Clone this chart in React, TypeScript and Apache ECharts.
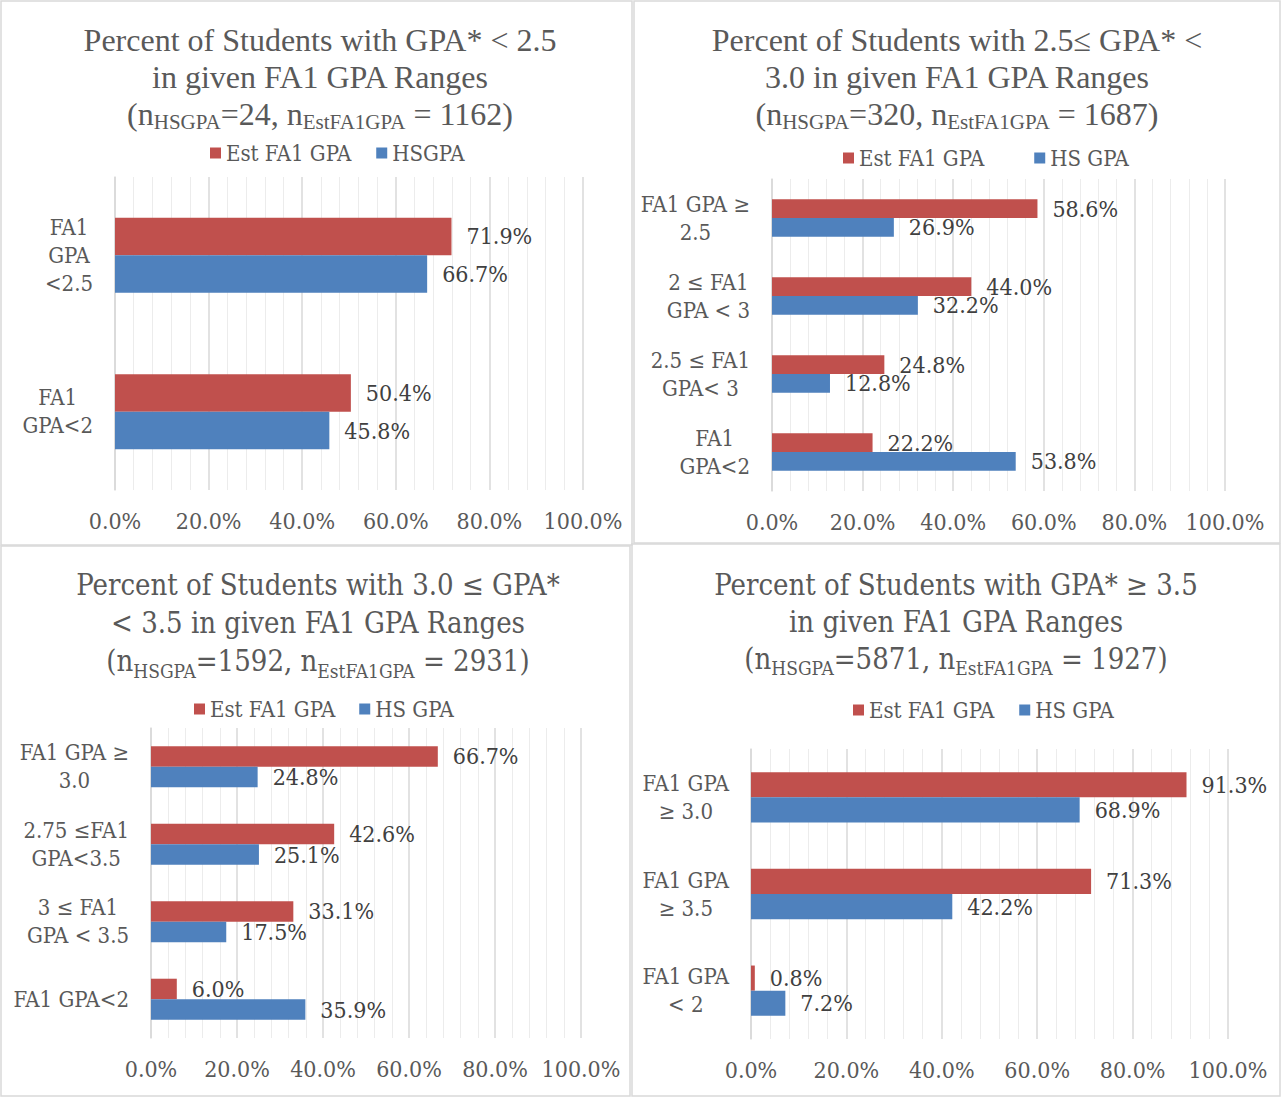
import React, { useEffect, useRef } from "react";
import * as echarts from "echarts";

// ---------- data ----------
const tlCategories = ["FA1\nGPA\n<2.5", "FA1\nGPA<2"];
const tlEst = [71.9, 50.4];
const tlHs = [66.7, 45.8];

const trCategories = ["FA1 GPA ≥\n2.5", "2 ≤ FA1\nGPA < 3", "2.5 ≤ FA1\nGPA< 3", "FA1\nGPA<2"];
const trEst = [58.6, 44.0, 24.8, 22.2];
const trHs = [26.9, 32.2, 12.8, 53.8];

const blCategories = ["FA1 GPA ≥\n3.0", "2.75 ≤FA1\nGPA<3.5", "3 ≤ FA1\nGPA < 3.5", "FA1 GPA<2"];
const blEst = [66.7, 42.6, 33.1, 6.0];
const blHs = [24.8, 25.1, 17.5, 35.9];

const brCategories = ["FA1 GPA\n≥ 3.0", "FA1 GPA\n≥ 3.5", "FA1 GPA\n< 2"];
const brEst = [91.3, 71.3, 0.8];
const brHs = [68.9, 42.2, 7.2];

const estName = "Est FA1 GPA";
const tlHsName = "HSGPA";
const hsName = "HS GPA";

const tlTitle = ["Percent of Students with GPA* < 2.5", "in given FA1 GPA Ranges", "(n{s|HSGPA}=24, n{s|EstFA1GPA} = 1162)"];
const trTitle = ["Percent of Students with 2.5≤ GPA* <", "3.0 in given FA1 GPA Ranges", "(n{s|HSGPA}=320, n{s|EstFA1GPA} = 1687)"];
const blTitle = ["Percent of Students with 3.0 ≤ GPA*", "< 3.5 in given FA1 GPA Ranges", "(n{s|HSGPA}=1592, n{s|EstFA1GPA} = 2931)"];
const brTitle = ["Percent of Students with GPA* ≥ 3.5", "in given FA1 GPA Ranges", "(n{s|HSGPA}=5871, n{s|EstFA1GPA} = 1927)"];

const valueTicks = { min: 0, max: 100, interval: 20 };

// ---------- style ----------
const RED = "#C0504D";
const BLUE = "#4F81BD";
const TEXT = "#595959";
const LABEL = "#404040";
const FONT = "'DejaVu Serif Condensed', 'Liberation Serif', serif";
const TOP_TITLE_FONT = "'Liberation Serif', serif";

const panels = [
  {
    cats: tlCategories, est: tlEst, hs: tlHs, hsName: tlHsName, title: tlTitle,
    titleFont: TOP_TITLE_FONT, titleSize: 32, titleX: 320, titleY: 21.5, titleLH: 37,
    grid: { left: 115, top: 177, width: 468, height: 313 },
    legend: { left: 210, top: 142, itemGap: 25 }, gap: "52%",
  },
  {
    cats: trCategories, est: trEst, hs: trHs, hsName: hsName, title: trTitle,
    titleFont: TOP_TITLE_FONT, titleSize: 32, titleX: 957, titleY: 21.5, titleLH: 37,
    grid: { left: 772, top: 179, width: 453, height: 312 },
    legend: { left: 843, top: 147, itemGap: 50 }, gap: "52%",
  },
  {
    cats: blCategories, est: blEst, hs: blHs, hsName: hsName, title: blTitle,
    titleFont: FONT, titleSize: 29, titleX: 318, titleY: 566, titleLH: 38,
    grid: { left: 151, top: 728, width: 430, height: 310 },
    legend: { left: 194, top: 698, itemGap: 24 }, gap: "47%",
  },
  {
    cats: brCategories, est: brEst, hs: brHs, hsName: hsName, title: brTitle,
    titleFont: FONT, titleSize: 29, titleX: 956, titleY: 566.5, titleLH: 37,
    grid: { left: 751, top: 749, width: 477, height: 290 },
    legend: { left: 853, top: 699, itemGap: 25 }, gap: "48%",
  },
];

const pct = (v: number) => v.toFixed(1) + "%";

function buildOption() {
  const grid: any[] = [];
  const xAxis: any[] = [];
  const yAxis: any[] = [];
  const series: any[] = [];
  const legend: any[] = [];
  const border = { fill: "none", stroke: "#d9d9d9", lineWidth: 1.5 };
  const graphic: any[] = [
    { type: "rect", shape: { x: 1, y: 1, width: 631, height: 544 }, style: border, silent: true },
    { type: "rect", shape: { x: 634, y: 1, width: 646, height: 542 }, style: border, silent: true },
    { type: "rect", shape: { x: 1, y: 546, width: 629, height: 550 }, style: border, silent: true },
    { type: "rect", shape: { x: 632, y: 544, width: 648, height: 552 }, style: border, silent: true },
  ];

  panels.forEach((p, i) => {
    grid.push({ ...p.grid, containLabel: false });
    xAxis.push({
      type: "value",
      gridIndex: i,
      min: valueTicks.min,
      max: valueTicks.max,
      interval: valueTicks.interval,
      axisLine: { show: false },
      axisTick: { show: false },
      minorTick: { show: false, splitNumber: 5 },
      minorSplitLine: { show: true, lineStyle: { color: "#ececec", width: 1 } },
      splitLine: { show: true, lineStyle: { color: "#d9d9d9", width: 1.5 } },
      axisLabel: {
        formatter: (v: number) => pct(v),
        margin: 19,
        color: TEXT,
        fontSize: 23,
        fontFamily: FONT,
      },
    });
    yAxis.push({
      type: "category",
      gridIndex: i,
      inverse: true,
      data: p.cats,
      axisLine: { show: true, lineStyle: { color: "#d9d9d9", width: 1.5 } },
      axisTick: { show: false },
      splitLine: { show: false },
      axisLabel: {
        margin: 22,
        align: "right",
        color: TEXT,
        fontSize: 22,
        fontFamily: FONT,
        lineHeight: 28,
        formatter: (v: string) => v.split("\n").map((l) => `{c|${l}}`).join("\n"),
        rich: {
          c: { align: "center", color: TEXT, fontSize: 22, fontFamily: FONT, lineHeight: 28 },
        },
      },
    });
    const label = {
      show: true,
      position: "right",
      distance: 15,
      color: LABEL,
      fontSize: 23,
      fontFamily: FONT,
      formatter: (d: any) => pct(d.value),
    };
    series.push({
      type: "bar",
      name: estName,
      xAxisIndex: i,
      yAxisIndex: i,
      data: p.est,
      itemStyle: { color: RED },
      barGap: "0%",
      barCategoryGap: p.gap,
      label,
    });
    series.push({
      type: "bar",
      name: p.hsName,
      xAxisIndex: i,
      yAxisIndex: i,
      data: p.hs,
      itemStyle: { color: BLUE },
      barGap: "0%",
      barCategoryGap: p.gap,
      label,
    });
    legend.push({
      left: p.legend.left,
      top: p.legend.top,
      itemGap: p.legend.itemGap,
      padding: 0,
      icon: "rect",
      itemWidth: 11,
      itemHeight: 11,
      selectedMode: false,
      data: [estName, p.hsName],
      textStyle: { color: TEXT, fontSize: 22, fontFamily: FONT },
    });
    graphic.push({
      type: "text",
      x: p.titleX,
      y: p.titleY,
      silent: true,
      style: {
        text: p.title.join("\n"),
        align: "center",
        verticalAlign: "top",
        fill: TEXT,
        fontSize: p.titleSize,
        fontFamily: p.titleFont,
        lineHeight: p.titleLH,
        rich: {
          s: {
            fill: TEXT,
            fontSize: Math.round(p.titleSize * 0.65),
            fontFamily: p.titleFont,
            verticalAlign: "bottom",
            lineHeight: 16,
          },
        },
      },
    });
  });

  return {
    animation: false,
    backgroundColor: "#ffffff",
    grid,
    xAxis,
    yAxis,
    series,
    legend,
    graphic,
  };
}

export default function App() {
  const ref = useRef<HTMLDivElement>(null);
  useEffect(() => {
    if (!ref.current) return;
    const chart = echarts.init(ref.current, undefined, { renderer: "svg" });
    chart.setOption(buildOption() as any);
    return () => chart.dispose();
  }, []);
  return (
    <div
      ref={ref}
      style={{ position: "absolute", left: 0, top: 0, width: 1281, height: 1097, background: "#fff" }}
    />
  );
}
